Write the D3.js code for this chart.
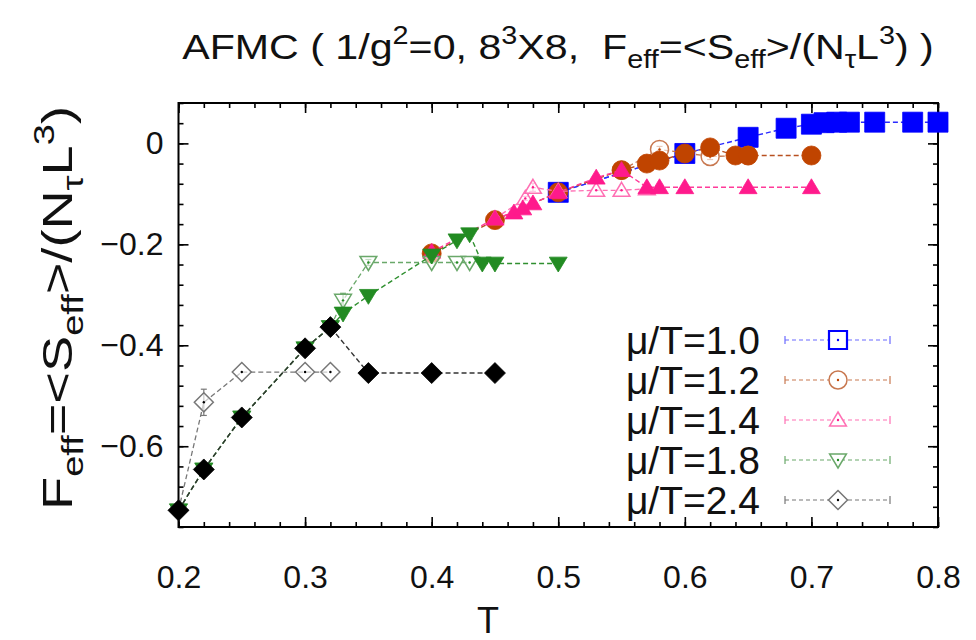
<!DOCTYPE html>
<html>
<head>
<meta charset="utf-8">
<script src="https://cdn.jsdelivr.net/npm/d3@7"></script>
<style>
  body { margin: 0; background: #fff; }
  text { font-family: "Liberation Sans", Arial, Helvetica, sans-serif; fill: #111; }
</style>
</head>
<body>
<svg id="chart" width="976" height="640"></svg>
<script>
// ---- data -------------------------------------------------------------
const legendLabels = ["μ/T=1.0", "μ/T=1.2", "μ/T=1.4", "μ/T=1.8", "μ/T=2.4"];

// μ/T = 1.0
const t10Filled = [0.5, 0.6, 0.65, 0.68, 0.7, 0.71, 0.72, 0.73, 0.75, 0.78, 0.8];
const f10Filled = [-0.097, -0.02, 0.012, 0.03, 0.038, 0.041, 0.042, 0.042, 0.042, 0.042, 0.042];
const t10Open = [0.5, 0.6];
const f10Open = [-0.097, -0.02];
const e10Open = [0, 0];

// μ/T = 1.2
const t12Filled = [0.4, 0.45, 0.5, 0.55, 0.57, 0.58, 0.6, 0.62, 0.64, 0.65, 0.7];
const f12Filled = [-0.218, -0.152, -0.097, -0.053, -0.04, -0.034, -0.02, -0.008, -0.024, -0.024, -0.024];
const t12Open = [0.55, 0.58, 0.62, 0.65];
const f12Open = [-0.053, -0.012, -0.026, -0.024];
const e12Open = [0, 0.006, 0.006, 0];

// μ/T = 1.4
const t14Filled = [0.4, 0.45, 0.465, 0.472, 0.48, 0.5, 0.53, 0.55, 0.57, 0.58, 0.6, 0.65, 0.7];
const f14Filled = [-0.215, -0.149, -0.137, -0.129, -0.119, -0.097, -0.068, -0.053, -0.087, -0.087, -0.087, -0.087, -0.087];
const t14Open = [0.45, 0.474, 0.48, 0.5, 0.53, 0.55, 0.57];
const f14Open = [-0.149, -0.109, -0.087, -0.095, -0.093, -0.093, -0.09];
const e14Open = [0, 0.004, 0.008, 0, 0, 0, 0];

// μ/T = 1.8
const t18Filled = [0.2, 0.22, 0.25, 0.3, 0.32, 0.33, 0.35, 0.4, 0.42, 0.43, 0.44, 0.45, 0.5];
const f18Filled = [-0.727, -0.646, -0.543, -0.406, -0.364, -0.337, -0.302, -0.222, -0.192, -0.18, -0.238, -0.238, -0.238];
const t18Open = [0.2, 0.22, 0.25, 0.3, 0.32, 0.33, 0.35, 0.4, 0.42, 0.43];
const f18Open = [-0.727, -0.646, -0.543, -0.406, -0.364, -0.311, -0.236, -0.236, -0.236, -0.236];
const e18Open = [0, 0, 0, 0, 0, 0.014, 0.006, 0, 0, 0];

// μ/T = 2.4
const t24Filled = [0.2, 0.22, 0.25, 0.3, 0.32, 0.35, 0.4, 0.45];
const f24Filled = [-0.727, -0.646, -0.543, -0.406, -0.364, -0.455, -0.455, -0.455];
const t24Open = [0.2, 0.22, 0.25, 0.3, 0.32];
const f24Open = [-0.727, -0.513, -0.453, -0.453, -0.453];
const e24Open = [0, 0.026, 0, 0, 0];

const xMajorTicks = [0.2, 0.3, 0.4, 0.5, 0.6, 0.7, 0.8];
const yMajorTicks = [0, -0.2, -0.4, -0.6];

// ---- styling ----------------------------------------------------------
const colors = ["#0000ff", "#c04400", "#ff1a8c", "#228b22", "#000000"];
const openLineColors = ["#6a6aff", "#c87850", "#ff70b4", "#6aa86a", "#777777"];
const filledLineColors = ["#2a2aff", "#b85020", "#ff3b9a", "#2f8f2f", "#333333"];
const shapes = ["square", "circle", "triUp", "triDown", "diamond"];

const series = [
  { tf: t10Filled, ff: f10Filled, to: t10Open, fo: f10Open, eo: e10Open },
  { tf: t12Filled, ff: f12Filled, to: t12Open, fo: f12Open, eo: e12Open },
  { tf: t14Filled, ff: f14Filled, to: t14Open, fo: f14Open, eo: e14Open },
  { tf: t18Filled, ff: f18Filled, to: t18Open, fo: f18Open, eo: e18Open },
  { tf: t24Filled, ff: f24Filled, to: t24Open, fo: f24Open, eo: e24Open }
].map((s, i) => ({
  ...s, name: legendLabels[i], color: colors[i], openLine: openLineColors[i],
  filledLine: filledLineColors[i], shape: shapes[i]
}));

// ---- layout -----------------------------------------------------------
const svg = d3.select("#chart");
const L = 178.5, R = 938, T = 103, B = 527;
const x = d3.scaleLinear().domain([0.2, 0.8]).range([L, R]);
const y = d3.scaleLinear().domain([-0.76, 0.08]).range([B, T]);

// marker path of a given kind, half-size r, centred on 0,0
function markerPath(kind, r) {
  const p = d3.path();
  if (kind === "square") { p.rect(-r, -r, 2 * r, 2 * r); }
  else if (kind === "circle") { p.arc(0, 0, r, 0, 2 * Math.PI); }
  else if (kind === "triUp") {
    p.moveTo(0, -r); p.lineTo(r * 1.05, r * 0.75); p.lineTo(-r * 1.05, r * 0.75); p.closePath();
  } else if (kind === "triDown") {
    p.moveTo(0, r); p.lineTo(r * 1.05, -r * 0.75); p.lineTo(-r * 1.05, -r * 0.75); p.closePath();
  } else if (kind === "diamond") {
    p.moveTo(0, -r); p.lineTo(r, 0); p.lineTo(0, r); p.lineTo(-r, 0); p.closePath();
  }
  return p.toString();
}
const filledSize = { square: 10, circle: 9.5, triUp: 8.5, triDown: 8.5, diamond: 10.5 };
const openSize = { square: 9, circle: 9, triUp: 8, triDown: 8, diamond: 9.5 };

// ---- axes (ticks inside on all four sides) -----------------------------
const xMinor = d3.range(0, 31).map(i => +(0.2 + i * 0.02).toFixed(2));
const yMinor = d3.range(0, 22).map(i => +(0.08 - i * 0.04).toFixed(2));

function tickGroup(axis, transform) {
  const g = svg.append("g").attr("transform", transform).call(axis);
  g.select(".domain").remove();
  g.selectAll(".tick line").attr("stroke", "#000").attr("stroke-width", 1.6);
  return g;
}
// minor ticks
tickGroup(d3.axisBottom(x).tickValues(xMinor).tickSize(-5).tickFormat(""), `translate(0,${B})`);
tickGroup(d3.axisTop(x).tickValues(xMinor).tickSize(-5).tickFormat(""), `translate(0,${T})`);
tickGroup(d3.axisLeft(y).tickValues(yMinor).tickSize(-5).tickFormat(""), `translate(${L},0)`);
tickGroup(d3.axisRight(y).tickValues(yMinor).tickSize(-5).tickFormat(""), `translate(${R},0)`);
// major ticks with labels
const xAx = tickGroup(d3.axisBottom(x).tickValues(xMajorTicks).tickSize(-10).tickPadding(38)
  .tickFormat(d3.format(".1f")), `translate(0,${B})`);
xAx.selectAll("text").attr("font-size", 32).attr("fill", "#111");
tickGroup(d3.axisTop(x).tickValues(xMajorTicks).tickSize(-10).tickFormat(""), `translate(0,${T})`);
const yAx = tickGroup(d3.axisLeft(y).tickValues(yMajorTicks).tickSize(-10).tickPadding(15)
  .tickFormat(d => d === 0 ? "0" : d3.format(".1f")(d)), `translate(${L},0)`);
yAx.selectAll("text").attr("font-size", 32).attr("fill", "#111");
yAx.selectAll(".tick text").attr("dx", 0);
tickGroup(d3.axisRight(y).tickValues(yMajorTicks).tickSize(-10).tickFormat(""), `translate(${R},0)`);

// frame
svg.append("rect").attr("x", L).attr("y", T).attr("width", R - L).attr("height", B - T)
  .attr("fill", "none").attr("stroke", "#000").attr("stroke-width", 2);

// ---- data layer -------------------------------------------------------
const plot = svg.append("g");
const line = d3.line().x(d => x(d[0])).y(d => y(d[1]));

series.forEach(s => {
  const g = plot.append("g");
  const filled = s.tf.map((t, i) => [t, s.ff[i]]);
  const open = s.to.map((t, i) => [t, s.fo[i], s.eo[i]]);

  // open set: lighter dashed line, error bars, hollow markers with centre dot
  g.append("path").attr("d", line(open)).attr("fill", "none")
    .attr("stroke", s.openLine).attr("stroke-width", 1.3).attr("stroke-dasharray", "5,3");
  const eb = g.selectAll(".eb").data(open.filter(d => d[2] > 0)).join("g");
  eb.append("line")
    .attr("x1", d => x(d[0])).attr("x2", d => x(d[0]))
    .attr("y1", d => y(d[1] - d[2])).attr("y2", d => y(d[1] + d[2]))
    .attr("stroke", s.openLine).attr("stroke-width", 1.2);
  [-1, 1].forEach(sg => eb.append("line")
    .attr("x1", d => x(d[0]) - 3).attr("x2", d => x(d[0]) + 3)
    .attr("y1", d => y(d[1] + sg * d[2])).attr("y2", d => y(d[1] + sg * d[2]))
    .attr("stroke", s.openLine).attr("stroke-width", 1.2));
  const om = g.selectAll(".om").data(open).join("g")
    .attr("transform", d => `translate(${x(d[0])},${y(d[1])})`);
  om.append("path").attr("d", markerPath(s.shape, openSize[s.shape]))
    .attr("fill", "#fff").attr("fill-opacity", 0.6).attr("stroke", s.openLine).attr("stroke-width", 1.5);
  om.append("circle").attr("r", 1.2).attr("fill", s.color);

  // filled set: dashed connecting line then solid markers
  g.append("path").attr("d", line(filled)).attr("fill", "none")
    .attr("stroke", s.filledLine).attr("stroke-width", 1.4).attr("stroke-dasharray", "5,3");
  g.selectAll(".fm").data(filled).join("path")
    .attr("transform", d => `translate(${x(d[0])},${y(d[1])})`)
    .attr("d", markerPath(s.shape, filledSize[s.shape]))
    .attr("fill", s.color).attr("stroke", s.color).attr("stroke-width", 0.8);
});

// ---- legend -----------------------------------------------------------
const legend = svg.append("g");
series.forEach((s, i) => {
  const ly = 340 + i * 40;
  legend.append("text").attr("x", 760).attr("y", ly + 14).attr("text-anchor", "end")
    .attr("font-size", 39).text(s.name);
  legend.append("line").attr("x1", 785).attr("x2", 890).attr("y1", ly).attr("y2", ly)
    .attr("stroke", s.openLine).attr("stroke-width", 1.2).attr("stroke-dasharray", "4,3");
  [785, 890].forEach(ex => legend.append("line").attr("x1", ex).attr("x2", ex)
    .attr("y1", ly - 4).attr("y2", ly + 4).attr("stroke", s.openLine).attr("stroke-width", 1.2));
  const m = legend.append("g").attr("transform", `translate(838,${ly})`);
  m.append("path").attr("d", markerPath(s.shape, openSize[s.shape]))
    .attr("fill", "#fff").attr("stroke", i === 0 ? s.color : s.openLine).attr("stroke-width", i === 0 ? 2.2 : 1.5);
  m.append("circle").attr("r", 1.2).attr("fill", s.color);
});

// ---- titles -----------------------------------------------------------
// text built from runs; sub/superscripts are shifted and the baseline restored on the next run
function richText(sel, parts, size) {
  let shift = 0;
  parts.forEach(([txt, kind]) => {
    const target = kind === "sup" ? -size * 0.42 : kind === "sub" ? size * 0.25 : 0;
    sel.append("tspan").attr("font-size", kind ? size * 0.7 : size)
      .attr("dy", target - shift).text(txt);
    shift = target;
  });
}
// stretch a text along its own direction so that it spans the given length
function fitLength(sel, length, base) {
  const w = sel.node().getBBox().width;
  sel.attr("transform", `${base} scale(${length / w},1)`);
}

const title = svg.append("text").attr("x", 0).attr("y", 0).attr("text-anchor", "middle")
  .attr("font-size", 36);
richText(title, [["AFMC ( 1/g"], ["2", "sup"], ["=0, 8"], ["3", "sup"], ["X8,  F"], ["eff", "sub"],
  ["=<S"], ["eff", "sub"], [">/(N"], ["τ", "sub"], ["L"], ["3", "sup"], [") )"]], 36);
title.attr("xml:space", "preserve");
fitLength(title, 752, "translate(558,59)");

svg.append("text").attr("x", 488).attr("y", 633).attr("text-anchor", "middle")
  .attr("font-size", 36).text("T");

const ylab = svg.append("text").attr("x", 0).attr("y", 0).attr("text-anchor", "middle")
  .attr("font-size", 43);
richText(ylab, [["F"], ["eff", "sub"], ["=<S"], ["eff", "sub"], [">/(N"], ["τ", "sub"], ["L"],
  ["3", "sup"], [")"]], 43);
fitLength(ylab, 404, "translate(72,308) rotate(-90)");
</script>
</body>
</html>
